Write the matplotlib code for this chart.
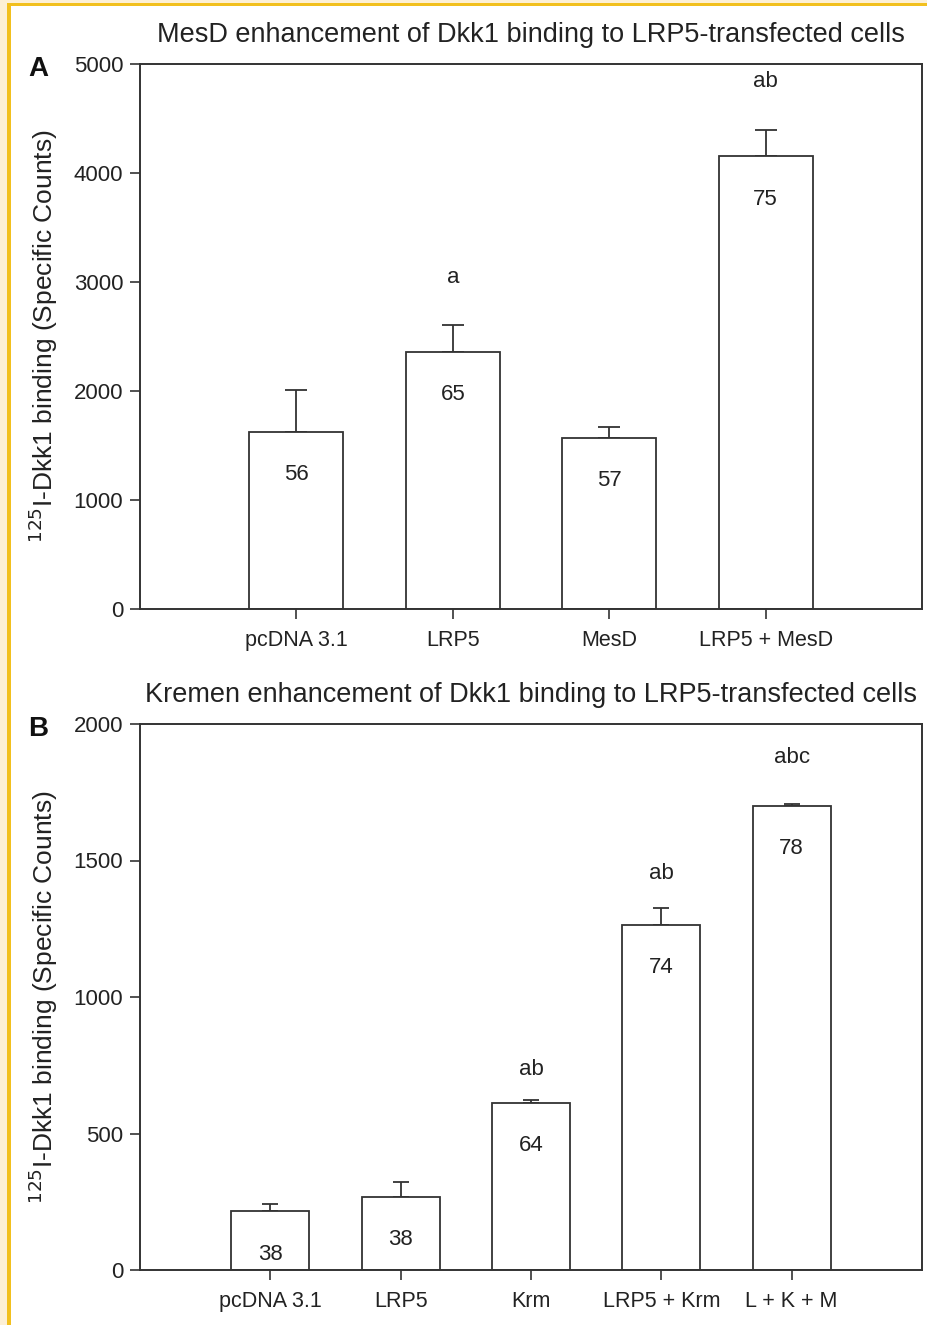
"""Dkk1 binding to LRP5-transfected cells: MesD (A) and Kremen (B) bar charts."""

import matplotlib
matplotlib.use("Agg")
import matplotlib.pyplot as plt
from matplotlib.patches import Rectangle

plt.rcParams["font.family"] = ["Liberation Sans", "DejaVu Sans"]

# ---------------------------------------------------------------------------
# Data
# ---------------------------------------------------------------------------

a_labels = ["pcDNA 3.1", "LRP5", "MesD", "LRP5 + MesD"]
a_means = [1625, 2360, 1570, 4155]
a_err = [385, 245, 100, 240]
a_n = ["56", "65", "57", "75"]
a_sig = ["", "a", "", "ab"]
a_sig_y = [None, 3040, None, 4835]

b_labels = ["pcDNA 3.1", "LRP5", "Krm", "LRP5 + Krm", "L + K + M"]
b_means = [216, 268, 612, 1265, 1700]
b_err = [24, 55, 12, 62, 6]
b_n = ["38", "38", "64", "74", "78"]
b_sig = ["", "", "ab", "ab", "abc"]
b_sig_y = [None, None, 736, 1451, 1879]

W, H = 927, 1325
EDGE = "#333333"
TXT = "#222222"
FS = 16


def _panel(ax, labels, means, err, n, sig, sig_y, ymax, ystep, title, letter, capsize):
    x = list(range(1, len(labels) + 1))
    ax.bar(x, means, width=0.6, color="white", edgecolor=EDGE, linewidth=1.3, zorder=2)
    ax.errorbar(x, means, yerr=[[0] * len(err), err], fmt="none", ecolor=EDGE,
                elinewidth=1.3, capsize=capsize, capthick=1.3, zorder=1)
    for xi, m, lab in zip(x, means, n):
        ax.annotate(lab, (xi, m), xytext=(0, -31), textcoords="offset points",
                    ha="center", va="center", fontsize=FS, color=TXT)
    for xi, s, sy in zip(x, sig, sig_y):
        if s:
            ax.text(xi, sy, s, ha="center", va="center", fontsize=FS, color=TXT)
    ax.set_xlim(0, len(labels) + 1)
    ax.set_ylim(0, ymax)
    ax.set_xticks(x)
    ax.set_xticklabels(labels, fontsize=15.5)
    ax.set_yticks(range(0, ymax + 1, ystep))
    ax.tick_params(axis="both", direction="out", length=7, width=1.2, color=EDGE,
                   labelsize=FS, labelcolor=TXT, pad=5)
    ax.tick_params(axis="x", labelsize=15.5, pad=8)
    for sp in ax.spines.values():
        sp.set_color(EDGE)
        sp.set_linewidth(1.4)
    ax.set_ylabel(r"$^{125}$I-Dkk1 binding (Specific Counts)", fontsize=19,
                  color=TXT, labelpad=10)
    ax.set_title(title, fontsize=19.5, color=TXT, pad=16)
    ax.text(-0.143, 0.99, letter, transform=ax.transAxes, fontsize=20,
            fontweight="bold", ha="left", va="center", color="#111111")


fig = plt.figure(figsize=(W / 100, H / 100), dpi=100, facecolor="white")

ax_a = fig.add_axes([140 / W, 1 - 609 / H, 782 / W, 545 / H])
_panel(ax_a, a_labels, a_means, a_err, a_n, a_sig, a_sig_y, 5000, 1000,
       "MesD enhancement of Dkk1 binding to LRP5-transfected cells", "A", 8)

ax_b = fig.add_axes([140 / W, 1 - 1270 / H, 782 / W, 546 / H])
_panel(ax_b, b_labels, b_means, b_err, b_n, b_sig, b_sig_y, 2000, 500,
       "Kremen enhancement of Dkk1 binding to LRP5-transfected cells", "B", 6)

# page border: cream margin + yellow rule on top and left
cream, yellow = "#fdf0d5", "#f2c01e"
fig.add_artist(Rectangle((0, 0), 7 / W, 1, transform=fig.transFigure, color=cream, lw=0))
fig.add_artist(Rectangle((0, 1 - 3 / H), 1, 3 / H, transform=fig.transFigure, color=cream, lw=0))
fig.add_artist(Rectangle((7 / W, 0), 3.5 / W, 1 - 3 / H, transform=fig.transFigure, color=yellow, lw=0))
fig.add_artist(Rectangle((7 / W, 1 - 6 / H), 1, 3 / H, transform=fig.transFigure, color=yellow, lw=0))

fig.savefig("out.png", dpi=100, facecolor="white")
